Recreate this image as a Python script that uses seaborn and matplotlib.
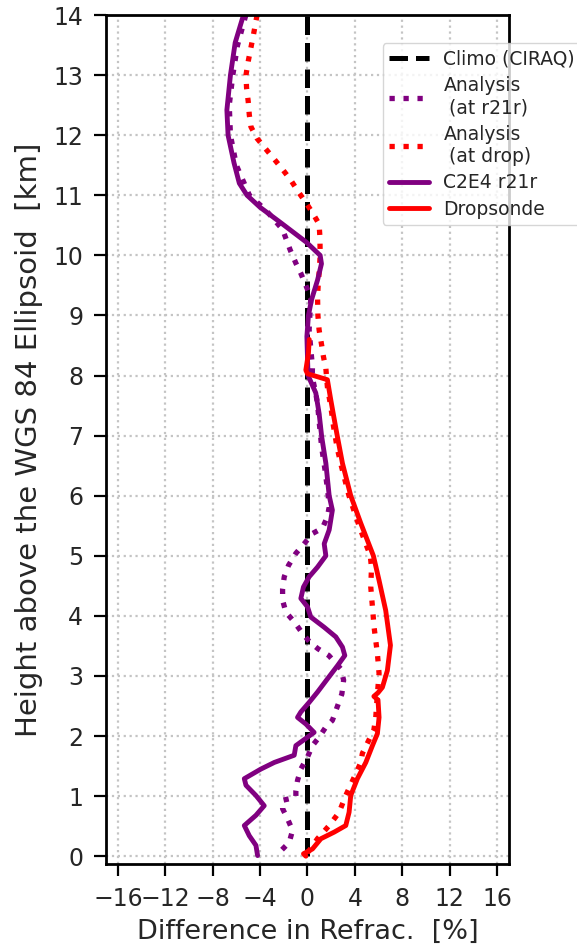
import matplotlib
matplotlib.use("Agg")
import matplotlib.pyplot as plt
import seaborn as sns

# ---- refractivity difference profiles (percent) versus height (km) ----
climo_height = [0.0, 14.0]
climo_diff = [0.0, 0.0]

ana_r21r_height = [14.0, 13.5, 13.0, 12.5, 12.0, 11.5, 11.0, 10.75, 10.43, 10.09,
                   9.87, 9.7, 9.5, 9.3, 9.0, 8.76, 8.4, 8.14, 7.98, 7.7,
                   7.54, 7.2, 6.8, 6.4, 6.0, 5.81, 5.65, 5.46, 5.37, 5.2,
                   5.04, 4.84, 4.65, 4.45, 4.26, 4.06, 3.9, 3.73, 3.56, 3.45,
                   3.34, 3.12, 2.93, 2.7, 2.48, 2.26, 2.15, 1.98, 1.84, 1.65,
                   1.45, 1.26, 1.09, 0.98, 0.93, 0.79, 0.62, 0.43, 0.23, 0.09, 0.03]
ana_r21r_diff = [-5.2, -5.9, -6.3, -6.6, -6.5, -6.0, -4.9, -3.5, -2.1, -1.46,
                 -0.98, -0.56, -0.14, 0.28, 0.2, 0.14, 0.3, 0.42, 0.4, 0.7,
                 0.84, 1.0, 1.2, 1.5, 1.75, 1.83, 1.68, 1.26, 0.42, -0.28,
                 -0.98, -1.6, -1.96, -2.1, -2.1, -1.82, -1.12, -0.5, 0.2, 0.9,
                 1.8, 2.8, 3.05, 2.9, 2.5, 2.1, 1.55, 0.98, 0.42, 0.0,
                 -0.56, -0.84, -0.98, -0.98, -2.1, -2.1, -1.68, -1.26, -1.54, -2.24, -2.53]

ana_drop_height = [14.0, 13.9, 13.68, 13.46, 13.23, 13.0, 12.79, 12.56, 12.34, 12.14,
                   11.95, 11.79, 11.6, 11.43, 11.25, 11.06, 10.88, 10.71, 10.52, 10.3,
                   10.0, 9.76, 9.5, 9.3, 9.0, 8.76, 8.5, 8.31, 8.12, 7.81,
                   7.48, 7.15, 6.8, 6.5, 6.0, 5.5, 5.0, 4.8, 4.48, 4.15,
                   3.81, 3.37, 3.04, 2.7, 2.31, 2.1, 1.9, 1.71, 1.56, 1.37,
                   1.01, 0.73, 0.51, 0.29, 0.09, 0.0]
ana_drop_diff = [-4.25, -4.35, -4.55, -4.77, -5.0, -5.19, -5.14, -5.0, -4.91, -4.77,
                 -4.27, -3.6, -2.8, -2.1, -1.4, -0.78, -0.14, 0.42, 0.98, 1.05,
                 1.07, 1.0, 0.9, 0.85, 0.88, 0.98, 1.2, 1.35, 1.55, 1.68,
                 1.97, 2.2, 2.5, 2.85, 3.5, 4.35, 5.3, 5.4, 5.34, 5.48,
                 5.62, 5.9, 6.04, 5.9, 5.76, 5.6, 5.1, 4.63, 4.5, 4.07,
                 3.23, 2.67, 1.83, 0.84, 0.14, -0.28]

c2e4_height = [14.0, 13.54, 13.0, 12.42, 12.0, 11.54, 11.2, 11.0, 10.8, 10.55,
               10.22, 10.0, 9.86, 9.59, 9.26, 9.0, 8.65, 8.3, 8.0, 7.71,
               7.37, 6.98, 6.54, 6.0, 5.76, 5.43, 5.2, 5.0, 4.81, 4.65,
               4.48, 4.29, 4.15, 3.98, 3.81, 3.65, 3.48, 3.34, 3.17, 2.95,
               2.73, 2.56, 2.4, 2.31, 2.2, 2.06, 1.98, 1.84, 1.68, 1.56,
               1.45, 1.29, 1.18, 1.01, 0.84, 0.68, 0.51, 0.34, 0.18, 0.01]
c2e4_diff = [-5.4, -6.1, -6.5, -6.8, -6.7, -6.2, -5.75, -5.1, -4.0, -2.3,
             -0.1, 1.07, 1.18, 0.85, 0.34, 0.08, -0.05, 0.0, 0.05, 0.7,
             0.98, 1.2, 1.55, 1.83, 2.1, 1.83, 1.41, 1.55, 0.84, 0.14,
             -0.34, -0.56, 0.0, 0.28, 1.41, 2.39, 2.95, 3.15, 2.53, 1.68,
             0.84, 0.14, -0.56, -0.84, -0.14, 0.56, 0.0, -0.98, -1.12, -2.8,
             -3.93, -5.33, -5.19, -4.35, -3.65, -4.35, -5.33, -4.91, -4.35, -4.21]

drop_height = [8.6, 8.37, 8.09, 8.03, 7.93, 7.59, 7.04, 6.54, 6.0, 5.54,
               5.0, 4.59, 4.09, 3.51, 3.09, 2.81, 2.72, 2.66, 2.6, 2.31,
               2.04, 1.84, 1.56, 1.29, 1.01, 0.73, 0.51, 0.4, 0.29, 0.12,
               0.04, 0.0]
drop_diff = [0.15, 0.08, -0.14, 0.0, 1.68, 1.97, 2.47, 2.95, 3.65, 4.5,
             5.56, 6.04, 6.6, 7.0, 6.74, 6.32, 5.95, 5.6, 5.95, 6.04,
             5.9, 5.48, 4.92, 4.21, 3.65, 3.51, 3.23, 2.25, 1.13, 0.42,
             -0.34, -0.14]

x_ticks = [-16, -12, -8, -4, 0, 4, 8, 12, 16]
y_ticks = list(range(0, 15))

PURPLE = "#800080"
RED = "#ff0000"

sns.set_style("ticks")
plt.rcParams["font.family"] = ["DejaVu Sans"]

fig = plt.figure(figsize=(5.77, 9.46), dpi=100)
ax = fig.add_axes([0.1837, 0.0867, 0.6984, 0.8974])

sns.lineplot(x=climo_diff, y=climo_height, sort=False, estimator=None, ax=ax,
             color="black", linestyle="--", linewidth=3.6, label="Climo (CIRAQ)")
sns.lineplot(x=ana_r21r_diff, y=ana_r21r_height, sort=False, estimator=None, ax=ax,
             color=PURPLE, linestyle=":", linewidth=3.8, label="Analysis\n (at r21r)")
sns.lineplot(x=ana_drop_diff, y=ana_drop_height, sort=False, estimator=None, ax=ax,
             color=RED, linestyle=":", linewidth=3.8, label="Analysis\n (at drop)")
sns.lineplot(x=c2e4_diff, y=c2e4_height, sort=False, estimator=None, ax=ax,
             color=PURPLE, linestyle="-", linewidth=3.5, label="C2E4 r21r")
sns.lineplot(x=drop_diff, y=drop_height, sort=False, estimator=None, ax=ax,
             color=RED, linestyle="-", linewidth=3.5, label="Dropsonde")

ax.set_xlim(-17, 17)
ax.set_ylim(-0.13, 14)
ax.set_xticks(x_ticks)
ax.set_yticks(y_ticks)
ax.tick_params(axis="both", labelsize=17, length=8.5, width=1.6, pad=8,
               direction="out", color="black")
ax.grid(True, linestyle=":", color="#c4c4c4", linewidth=1.6)
ax.set_axisbelow(True)
for sp in ax.spines.values():
    sp.set_linewidth(2.0)
    sp.set_color("black")
    sp.set_visible(True)

ax.set_xlabel("Difference in Refrac.  [%]", fontsize=19.5, labelpad=6)
ax.set_ylabel("Height above the WGS 84 Ellipsoid  [km]", fontsize=21, labelpad=7)

ax.legend(loc="upper left", bbox_to_anchor=(0.663, 0.9545),
          bbox_transform=fig.transFigure, borderaxespad=0, fontsize=13.5,
          handlelength=2.15, handletextpad=0.75, borderpad=0.35, labelspacing=0.4,
          frameon=True, fancybox=True, framealpha=0.8, edgecolor="0.8")

fig.savefig("out.png", dpi=100)
